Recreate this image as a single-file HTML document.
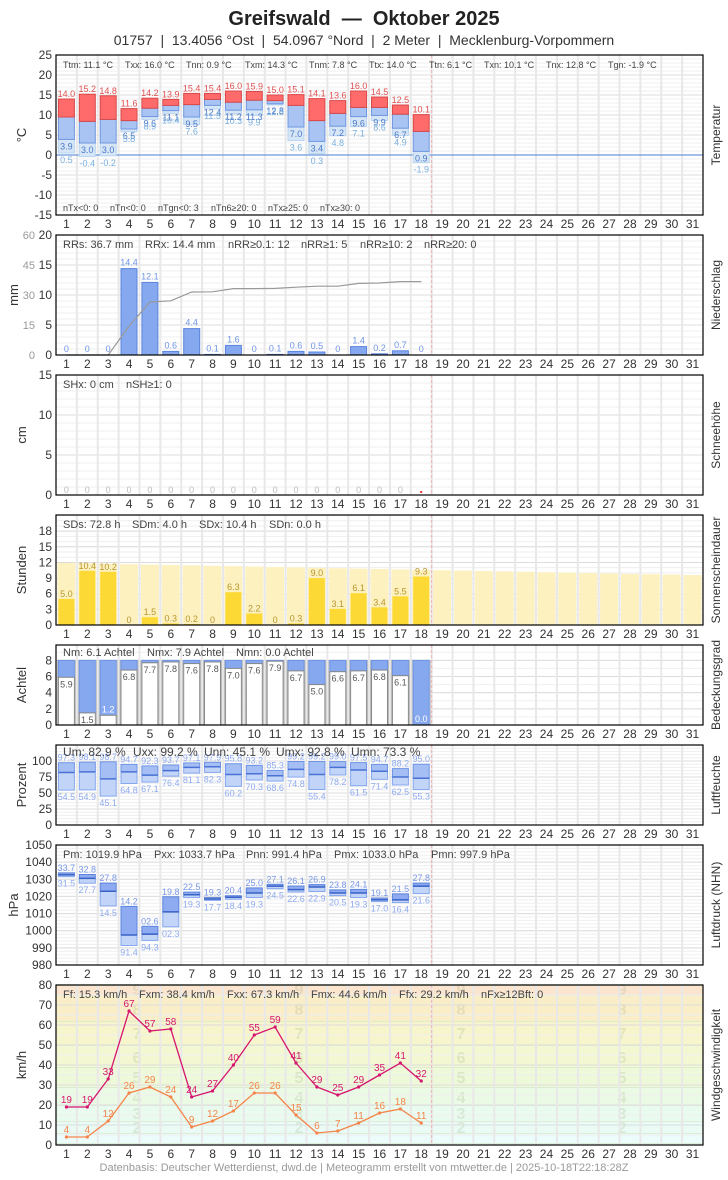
<!DOCTYPE html>
<html><head><meta charset="utf-8"><style>
html,body{margin:0;padding:0;background:#fff;}
svg text{font-family:"Liberation Sans",sans-serif;white-space:pre;}
</style></head><body>
<svg id="s" xmlns="http://www.w3.org/2000/svg" width="728" height="1175" viewBox="0 0 728 1175"></svg>
<script>
const S=document.getElementById('s');let h='';
const X0=56,X1=703,DW=(X1-X0)/31;
const cx=i=>X0+(i-0.5)*DW;
function t(x,y,s,o){o=o||{};h+=`<text x="${x}" y="${y}" font-size="${o.fs||12}" fill="${o.c||'#333'}" text-anchor="${o.a||'start'}"${o.w?' font-weight="bold"':''}${o.r?` transform="rotate(-90 ${x} ${y})"`:''}>${s}</text>`;}
function r(x,y,w,hh,f,st){if(hh<0){y+=hh;hh=-hh;}h+=`<rect x="${x.toFixed(1)}" y="${y.toFixed(1)}" width="${w.toFixed(1)}" height="${Math.max(hh,0.5).toFixed(1)}" fill="${f}"${st?` stroke="${st}" stroke-width="1"`:''}/>`;}
function l(x1,y1,x2,y2,c,w,d){h+=`<line x1="${x1}" y1="${y1}" x2="${x2}" y2="${y2}" stroke="${c}" stroke-width="${w||1}"${d?` stroke-dasharray="${d}"`:''}/>`;}
function panel(top,bot,vmin,vmax,ticks,minor,ylab,rlab,ylabx,bg){
  const Y=v=>bot-(v-vmin)/(vmax-vmin)*(bot-top);
  if(bg)bg(Y);
  for(let v=vmin;v<=vmax+1e-9;v+=minor){l(X0,Y(v),X1,Y(v),'#efefef',1);}
  ticks.forEach(v=>{l(X0,Y(v),X1,Y(v),'#dcdcdc',1);t(52,Y(v)+4,v,{a:'end'});});
  for(let i=1;i<31;i++)l(X0+i*DW,top,X0+i*DW,bot,'#e8e8e8',2);
  l(X0+18*DW,top,X0+18*DW,bot,'#f0b0b0',1,'3,2');
  for(let i=1;i<=31;i++)t(cx(i),bot+13,i,{a:'middle'});
  t(ylabx||26,(top+bot)/2,ylab,{r:1,a:'middle',fs:13});
  t(720,(top+bot)/2,rlab,{r:1,a:'middle',fs:12});
  return Y;
}
function frame(top,bot){h+=`<rect x="${X0}" y="${top}" width="${X1-X0}" height="${bot-top}" fill="none" stroke="#000" stroke-width="1.2"/>`;}
function stats(y,arr,fs){arr.forEach(a=>t(a[0],y,a[1],{fs:fs||11,c:'#444'}));}
const BW=16;
t(364,25,'Greifswald  —  Oktober 2025',{a:'middle',fs:20,w:1,c:'#222'});
t(364,45,'01757  |  13.4056 °Ost  |  54.0967 °Nord  |  2 Meter  |  Mecklenburg-Vorpommern',{a:'middle',fs:14,c:'#333'});

// Temperature
let T=[[14.0,9.5,3.9,0.5],[15.2,8.4,3.0,-0.4],[14.8,8.9,3.0,-0.2],[11.6,8.6,6.5,5.8],[14.2,11.7,9.6,8.9],[13.9,12.4,11.1,10.4],[15.4,12.6,9.5,7.6],[15.4,13.9,12.4,11.5],[16.0,13.2,11.2,10.3],[15.9,13.7,11.3,9.9],[15.0,13.6,12.8,12.5],[15.1,12.4,7.0,3.6],[14.1,8.6,3.4,0.3],[13.6,10.4,7.2,4.8],[16.0,11.9,9.6,7.1],[14.5,11.9,9.9,8.6],[12.5,10.2,6.7,4.9],[10.1,5.9,0.9,-1.9]];
let Y=panel(55,215,-15,25,[-15,-10,-5,0,5,10,15,20,25],1,'°C','Temperatur');
l(X0,Y(0),X1,Y(0),'#6a96dc',1.2);
T.forEach((d,k)=>{const x=cx(k+1)-BW/2;
 r(x,Y(d[2]),BW,Y(d[3])-Y(d[2]),'#d6e6f7','#b8d4ef');
 r(x,Y(d[1]),BW,Y(d[2])-Y(d[1]),'#a9c4f2','#6f97e0');
 r(x,Y(d[0]),BW,Y(d[1])-Y(d[0]),'#ff6b6b','#d84848');
 t(cx(k+1),Y(d[0])-2,d[0].toFixed(1),{a:'middle',fs:9,c:'#e05050'});
 t(cx(k+1),Y(d[2])+10,d[2].toFixed(1),{a:'middle',fs:9,c:'#4a78c8'});
 t(cx(k+1),Y(d[3])+10,d[3].toFixed(1),{a:'middle',fs:9,c:'#7ab0e0'});});
stats(68,[[63,'Ttm: 11.1 °C'],[125,'Txx: 16.0 °C'],[186,'Tnn: 0.9 °C'],[245,'Txm: 14.3 °C'],[309,'Tnm: 7.8 °C'],[369,'Ttx: 14.0 °C'],[429,'Ttn: 6.1 °C'],[484,'Txn: 10.1 °C'],[546,'Tnx: 12.8 °C'],[608,'Tgn: -1.9 °C']],9);
stats(211,[[63,'nTx<0: 0'],[110,'nTn<0: 0'],[158,'nTgn<0: 3'],[211,'nTn6≥20: 0'],[268,'nTx≥25: 0'],[320,'nTx≥30: 0']],9);
frame(55,215);

// Precip
let P=[0,0,0,14.4,12.1,0.6,4.4,0.1,1.6,0,0.1,0.6,0.5,0,1.4,0.2,0.7,0];
Y=panel(235,355,0,20,[0,5,10,15,20],1,'mm','Niederschlag',18);
[0,15,30,45,60].forEach(v=>t(35,Y(v/3)+4,v,{a:'end',fs:11,c:'#999'}));
P.forEach((v,k)=>{const x=cx(k+1)-BW/2;if(v>0)r(x,Y(v),BW,Y(0)-Y(v),'#86a8ef','#5b84dc');
 t(cx(k+1),Y(v)-3,v==0?'0':v.toFixed(1),{a:'middle',fs:9,c:'#6f94e6'});});
let c=0,pts=[];P.forEach((v,k)=>{c+=v;pts.push(`${cx(k+1).toFixed(1)},${Y(c/3).toFixed(1)}`);});
h+=`<polyline points="${pts.join(' ')}" fill="none" stroke="#999" stroke-width="1.2"/>`;
stats(248,[[63,'RRs: 36.7 mm'],[145,'RRx: 14.4 mm'],[228,'nRR≥0.1: 12'],[301,'nRR≥1: 5'],[360,'nRR≥10: 2'],[424,'nRR≥20: 0']]);
frame(235,355);

// Snow
Y=panel(375,495,0,15,[0,5,10,15],1,'cm','Schneehöhe');
for(let i=1;i<=17;i++)t(cx(i),493,'0',{a:'middle',fs:9,c:'#bbb'});
r(cx(18)-1,491,2,2,'#e33');
stats(388,[[63,'SHx: 0 cm'],[126,'nSH≥1: 0']]);
frame(375,495);

// Sun
let SD=[5.0,10.4,10.2,0,1.5,0.3,0.2,0,6.3,2.2,0,0.3,9.0,3.1,6.1,3.4,5.5,9.3];
Y=panel(515,625,0,21.1,[0,3,6,9,12,15,18],1,'Stunden','Sonnenscheindauer');
for(let i=1;i<=31;i++){const pv=11.9-(i-1)*0.077;r(cx(i)-BW/2-1,Y(pv),BW+2,Y(0)-Y(pv),'#fdf1c0');}
SD.forEach((v,k)=>{const x=cx(k+1)-BW/2;if(v>0)r(x,Y(v),BW,Y(0)-Y(v),'#fcd934');
 t(cx(k+1),Y(v)-2,v==0?'0':v.toFixed(1),{a:'middle',fs:9,c:'#b8962a'});});
stats(528,[[63,'SDs: 72.8 h'],[132,'SDm: 4.0 h'],[199,'SDx: 10.4 h'],[269,'SDn: 0.0 h']]);
frame(515,625);

// Cloud
let N=[5.9,1.5,1.2,6.8,7.7,7.8,7.6,7.8,7.0,7.6,7.9,6.7,5.0,6.6,6.7,6.8,6.1,0.0];
Y=panel(645,725,0,9.9,[0,2,4,6,8],1,'Achtel','Bedeckungsgrad');
N.forEach((v,k)=>{const x=cx(k+1)-BW/2;
 r(x-1,Y(8),BW+2,Y(0)-Y(8),'#fff','#bbb');
 r(x,Y(8),BW,Y(v)-Y(8),'#86a8ef','#6f94e6');
 if(v>0.1)r(x,Y(v),BW,Y(0)-Y(v),'#fff','#888');
 const lb=(k==2||k==17);
 t(cx(k+1),Y(v)+(lb?-3:10),v.toFixed(1),{a:'middle',fs:9,c:lb?'#fff':'#555'});});
stats(656,[[63,'Nm: 6.1 Achtel'],[147,'Nmx: 7.9 Achtel'],[236,'Nmn: 0.0 Achtel']]);
frame(645,725);

// Humidity
let U=[[97.3,82,54.5],[98.1,83,54.9],[98.7,72,45.1],[94.7,83,64.8],[92.3,78,67.1],[93.7,85,76.4],[97.1,90,81.1],[97.9,91,82.3],[95.8,79,60.2],[93.2,80,70.3],[85.3,77,68.6],[99.2,87,74.8],[99.2,79,55.4],[99.0,90,78.2],[97.5,86,61.5],[94.7,84,71.4],[88.2,75,62.5],[95.0,73,55.3]];
Y=panel(745,825,0,125,[0,25,50,75,100],5,'Prozent','Luftfeuchte');
U.forEach((d,k)=>{const x=cx(k+1)-BW/2;
 r(x,Y(d[1]),BW,Y(d[2])-Y(d[1]),'#c2d4f7','#86a8ef');
 r(x,Y(d[0]),BW,Y(d[1])-Y(d[0]),'#a5bff4','#6f94e6');
 l(x,Y(d[1]),x+BW,Y(d[1]),'#4a72d6',1.5);
 t(cx(k+1),Y(d[0])-2,d[0].toFixed(1),{a:'middle',fs:9,c:'#8eaaf0'});
 t(cx(k+1),Y(d[2])+10,d[2].toFixed(1),{a:'middle',fs:9,c:'#8eaaf0'});});
stats(756,[[63,'Um: 82.9 %'],[133,'Uxx: 99.2 %'],[204,'Unn: 45.1 %'],[276,'Umx: 92.8 %'],[351,'Umn: 73.3 %']],12);
frame(745,825);

// Pressure
let PR=[[1033.7,1032.6,1031.5],[1032.8,1030.5,1027.7],[1027.8,1023,1014.5],[1014.2,997.5,991.4],[1002.6,998,994.3],[1019.8,1011,1002.3],[1022.5,1021,1019.3],[1019.3,1018.5,1017.7],[1020.4,1019.5,1018.4],[1025.0,1022,1019.3],[1027.1,1026,1024.5],[1026.1,1024,1022.6],[1026.9,1025.5,1022.9],[1023.8,1022,1020.5],[1024.1,1022,1019.3],[1019.1,1018,1017.0],[1021.5,1018,1016.4],[1027.8,1026,1021.6]];
Y=panel(845,965,980,1050,[980,990,1000,1010,1020,1030,1040,1050],2,'hPa','Luftdruck (NHN)',18);
const f2=v=>{let s=(v%100).toFixed(1);return s.length<4?'0'+s:s;};
PR.forEach((d,k)=>{const x=cx(k+1)-BW/2;
 r(x,Y(d[1]),BW,Y(d[2])-Y(d[1]),'#c2d4f7','#86a8ef');
 r(x,Y(d[0]),BW,Y(d[1])-Y(d[0]),'#8eaaf0','#5b84dc');
 l(x,Y(d[1]),x+BW,Y(d[1]),'#3a62c6',1.5);
 t(cx(k+1),Y(d[0])-2,f2(d[0]),{a:'middle',fs:9,c:'#7898e6'});
 t(cx(k+1),Y(d[2])+10,f2(d[2]),{a:'middle',fs:9,c:'#8eaaf0'});});
stats(858,[[63,'Pm: 1019.9 hPa'],[154,'Pxx: 1033.7 hPa'],[246,'Pnn: 991.4 hPa'],[334,'Pmx: 1033.0 hPa'],[431,'Pmn: 997.9 hPa']]);
frame(845,965);

// Wind
let FX=[19,19,33,67,57,58,24,27,40,55,59,41,29,25,29,35,41,32];
let FF=[4,4,12,26,29,24,9,12,17,26,26,15,6,7,11,16,18,11];
Y=panel(985,1145,0,80,[0,10,20,30,40,50,60,70,80],5,'km/h','Windgeschwindigkeit',26,Yb=>{
 const bands=[[0,1,'#f0fdfe'],[1,6,'#ecfcfb'],[6,12,'#e9fbf4'],[12,20,'#e8fbee'],[20,29,'#ebfae4'],[29,39,'#eef9da'],[39,50,'#f3f8d3'],[50,62,'#f7f5cc'],[62,75,'#faeec9'],[75,80,'#fbe5cf']];
 bands.forEach(b=>{r(X0,Yb(b[1]),X1-X0,Yb(b[0])-Yb(b[1]),b[2]);l(X0,Yb(b[1]),X1,Yb(b[1]),'#d8e8cc',1.5);});
 const nums=[[2,9],[3,16],[4,24],[5,34],[6,44],[7,56],[8,68],[9,78]];
 [137,299,461,622].forEach(xx=>nums.forEach(n=>t(xx,Yb(n[1])+6,n[0],{a:'middle',fs:16,w:1,c:'rgba(150,170,120,0.22)'})));
});
function line(arr,col){h+=`<polyline points="${arr.map((v,k)=>cx(k+1).toFixed(1)+','+Y(v).toFixed(1)).join(' ')}" fill="none" stroke="${col}" stroke-width="1.3"/>`;
 arr.forEach((v,k)=>{h+=`<circle cx="${cx(k+1)}" cy="${Y(v)}" r="1.6" fill="${col}"/>`;t(cx(k+1),Y(v)-4,v,{a:'middle',fs:10,c:col});});}
line(FF,'#f5844a');line(FX,'#d6156e');
stats(998,[[63,'Ff: 15.3 km/h'],[139,'Fxm: 38.4 km/h'],[227,'Fxx: 67.3 km/h'],[311,'Fmx: 44.6 km/h'],[399,'Ffx: 29.2 km/h'],[481,'nFx≥12Bft: 0']]);
frame(985,1145);
t(364,1171,'Datenbasis: Deutscher Wetterdienst, dwd.de | Meteogramm erstellt von mtwetter.de | 2025-10-18T22:18:28Z',{a:'middle',fs:11,c:'#999'});
S.innerHTML=h;
</script>
</body></html>
